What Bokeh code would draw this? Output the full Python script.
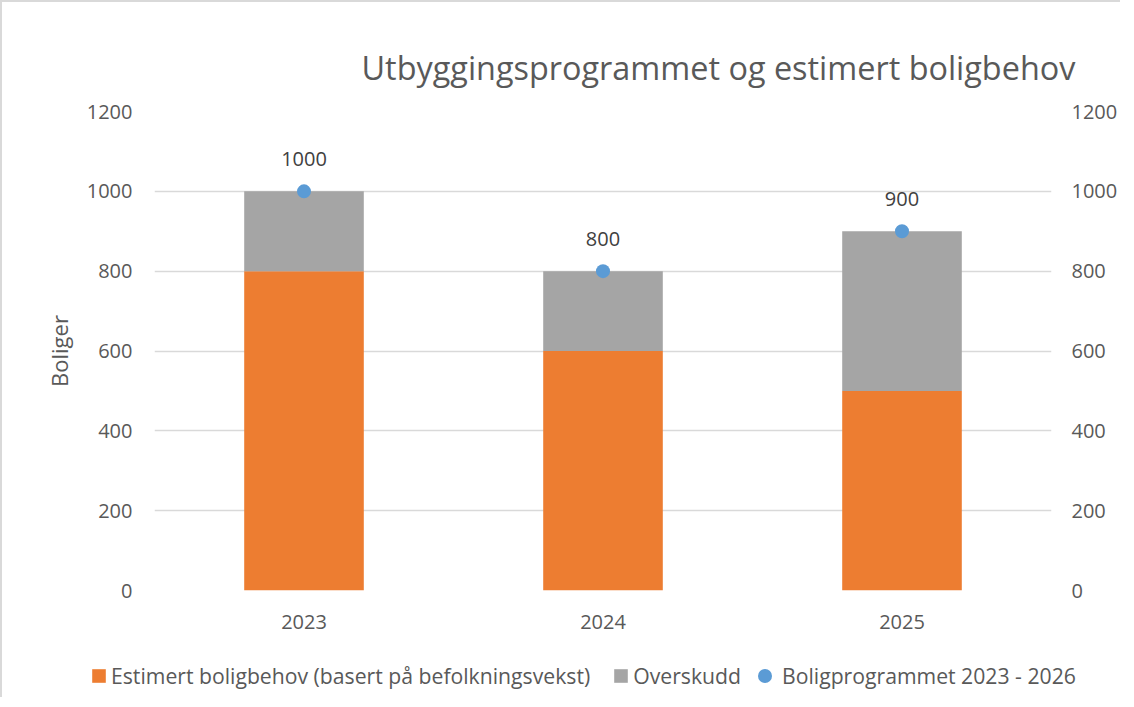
from bokeh.plotting import figure
from bokeh.layouts import column
from bokeh.models import (Range1d, FactorRange, LinearAxis, FixedTicker, Legend, LegendItem, ColumnDataSource)
from bokeh.core.properties import value
from bokeh.embed import file_html
from bokeh.resources import INLINE

years = ["2023", "2024", "2025"]
behov = [800, 600, 500]
overskudd = [200, 200, 400]
program = [1000, 800, 900]
y_ticks = [0, 200, 400, 600, 800, 1000, 1200]

series_names = ["Estimert boligbehov (basert på befolkningsvekst)", "Overskudd", "Boligprogrammet 2023 - 2026"]
title_text = "Utbyggingsprogrammet og estimert boligbehov"
y_label = "Boliger"

FONT = "Open Sans"
TXT = "#595959"
C_BEHOV, C_OVER, C_PROG = "#ED7D31", "#A5A5A5", "#5B9BD5"

src = ColumnDataSource(dict(year=years, behov=behov, overskudd=overskudd,
                            program=program, lab=[str(v) for v in program]))

p = figure(width=1118, height=645, output_backend="svg", toolbar_location=None,
           x_range=FactorRange(*years), y_range=Range1d(0, 1200),
           min_border_left=152, min_border_right=63, min_border_top=109, min_border_bottom=57)
p.frame_align = False

p.title.text = title_text
p.title.text_font = FONT
p.title.text_font_size = "32.4px"
p.title.text_font_style = "normal"
p.title.text_color = TXT
p.title.align = "left"
p.title.offset = 207
p.title.standoff = 46

p.vbar_stack(["behov", "overskudd"], x="year", width=0.4, source=src,
             color=[C_BEHOV, C_OVER], line_color=None)
p.scatter(x="year", y="program", source=src, size=14, color=C_PROG, line_color=None)
p.text(x="year", y="program", text="lab", source=src, text_font=value(FONT),
       text_font_size="20px", text_color="#404040", text_align="center",
       text_baseline="alphabetic", y_offset=-32)

p.outline_line_color = None
p.xgrid.grid_line_color = None
p.ygrid.grid_line_color = "#d9d9d9"
p.ygrid.grid_line_width = 1.5
p.ygrid.ticker = FixedTicker(ticks=y_ticks)


def style_axis(ax, standoff):
    ax.axis_line_color = None
    ax.major_tick_line_color = None
    ax.minor_tick_line_color = None
    ax.major_tick_in = 0
    ax.major_tick_out = 0
    ax.minor_tick_in = 0
    ax.minor_tick_out = 0
    ax.major_label_text_font = FONT
    ax.major_label_text_font_size = "20px"
    ax.major_label_text_color = TXT
    ax.major_label_standoff = standoff


ya = p.yaxis[0]
ya.ticker = FixedTicker(ticks=y_ticks)
style_axis(ya, 22)
ya.axis_label = y_label
ya.axis_label_text_font = FONT
ya.axis_label_text_font_size = "22px"
ya.axis_label_text_font_style = "normal"
ya.axis_label_text_color = TXT
ya.axis_label_standoff = 10

rax = LinearAxis(ticker=FixedTicker(ticks=y_ticks))
style_axis(rax, 20)
p.add_layout(rax, "right")

style_axis(p.xaxis[0], 24)

# legend strip (its renderers are hidden; they only feed the legend swatches)
lf = figure(width=1118, height=50, output_backend="svg", toolbar_location=None,
            x_range=FactorRange(*years), y_range=Range1d(0, 1200),
            x_axis_type=None, y_axis_type=None,
            min_border=0, min_border_left=0, min_border_right=0,
            min_border_top=0, min_border_bottom=0)
lf.frame_align = False
lf.outline_line_color = None
lf.grid.visible = False
lr = lf.vbar_stack(["behov", "overskudd"], x="year", width=0.4, source=src,
                   color=[C_BEHOV, C_OVER], line_color=None)
lr3 = lf.scatter(x="year", y="program", source=src, size=14, color=C_PROG, line_color=None)
for r in (lr[0], lr[1], lr3):
    r.visible = False

common = dict(orientation="horizontal", padding=0, margin=0,
              label_text_font=FONT, label_text_font_size="21.2px", label_text_color=TXT,
              border_line_color=None, background_fill_alpha=0,
              inactive_fill_alpha=0)
legA = Legend(items=[LegendItem(label=series_names[0], renderers=[lr[0]]),
                     LegendItem(label=series_names[1], renderers=[lr[1]])],
              location=(88, 7), spacing=22, label_standoff=4,
              glyph_width=17, glyph_height=17, **common)
legB = Legend(items=[LegendItem(label=series_names[2], renderers=[lr3])],
              location=(745, 4), spacing=0, label_standoff=-5,
              glyph_width=35, glyph_height=35, **common)
lf.add_layout(legA)
lf.add_layout(legB)

layout = column(p, lf, spacing=0,
                styles={"border-left": "2px solid #d9d9d9", "border-top": "2px solid #d9d9d9"})

open("out.html", "w").write(file_html(layout, INLINE))
